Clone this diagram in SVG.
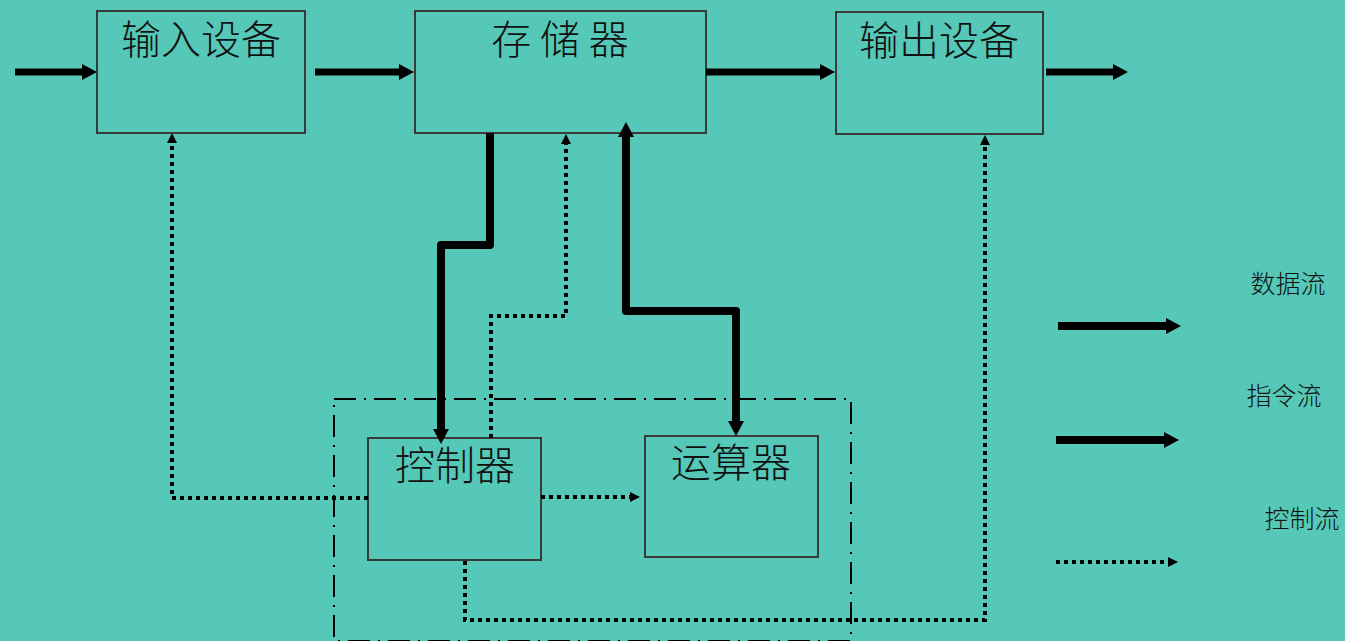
<svg xmlns="http://www.w3.org/2000/svg" width="1345" height="641" viewBox="0 0 1345 641">
<style>
.box{fill:none;stroke:#3a3a3a;stroke-width:2}
.lbl{font-family:"Noto Sans CJK SC","Noto Sans CJK JP",sans-serif;font-size:40px;font-weight:300;fill:#111;text-anchor:middle}
.leg{font-family:"Noto Sans CJK SC","Noto Sans CJK JP",sans-serif;font-size:25px;font-weight:300;fill:#111;text-anchor:middle}
.data{fill:none;stroke:#000;stroke-width:7;stroke-linejoin:round;marker-end:url(#ah)}
.thick{fill:none;stroke:#000;stroke-width:8;stroke-linejoin:round}
.dot{fill:none;stroke:#000;stroke-width:4;stroke-dasharray:4 4;marker-end:url(#dh)}
.dashdot{fill:none;stroke:#000;stroke-width:2;stroke-dasharray:22 8 2 8}
</style>
<defs>
<marker id="ah" viewBox="0 0 15 16" markerWidth="15" markerHeight="16" markerUnits="userSpaceOnUse" refX="0" refY="8" orient="auto-start-reverse">
<path d="M0,0 L15,8 L0,16 Z" fill="#000"/>
</marker>
<marker id="dh" viewBox="0 0 10 10" markerWidth="10" markerHeight="10" markerUnits="userSpaceOnUse" refX="0" refY="5" orient="auto">
<path d="M0,0 L10,5 L0,10 Z" fill="#000"/>
</marker>
</defs>
<rect x="0" y="0" width="1345" height="641" fill="#55C8B7"/>

<rect id="cpu-boundary" class="dashdot" x="334" y="399" width="517" height="242"/>

<g id="input-device">
<rect class="box" x="97" y="11" width="208" height="122"/>
<text class="lbl" x="201" y="54">输入设备</text>
</g>
<g id="memory">
<rect class="box" x="415" y="11" width="291" height="122"/>
<text class="lbl" x="560" y="54" xml:space="preserve">存 储 器</text>
</g>
<g id="output-device">
<rect class="box" x="836" y="12" width="207" height="122"/>
<text class="lbl" x="939" y="55">输出设备</text>
</g>
<g id="controller">
<rect class="box" x="368" y="438" width="173" height="122"/>
<text class="lbl" x="455" y="480">控制器</text>
</g>
<g id="alu">
<rect class="box" x="645" y="436" width="173" height="121"/>
<text class="lbl" x="731" y="477">运算器</text>
</g>

<g id="connectors">
<path class="data" d="M15,72 H82"/>
<path class="data" d="M315,72 H399"/>
<path class="data" d="M706,72 H820"/>
<path class="data" d="M1046,72 H1113"/>
<path class="thick" d="M490,133 V245 H441 V429" marker-end="url(#ah)"/>
<path class="thick" d="M626,137 V311 H736 V421" marker-start="url(#ah)" marker-end="url(#ah)"/>
<path class="dot" d="M368,498 H172 V143"/>
<path class="dot" d="M491,438 V316 H566 V144"/>
<path class="dot" d="M541,497 H630"/>
<path class="dot" d="M465,561 V620 H985 V145"/>
</g>

<g id="legend">
<text class="leg" x="1288" y="293">数据流</text>
<path class="thick" d="M1058,326 H1166" marker-end="url(#ah)"/>
<text class="leg" x="1284" y="405">指令流</text>
<path class="thick" d="M1056,440 H1164" marker-end="url(#ah)"/>
<text class="leg" x="1302" y="528">控制流</text>
<path class="dot" d="M1056,562 H1168"/>
</g>
</svg>
